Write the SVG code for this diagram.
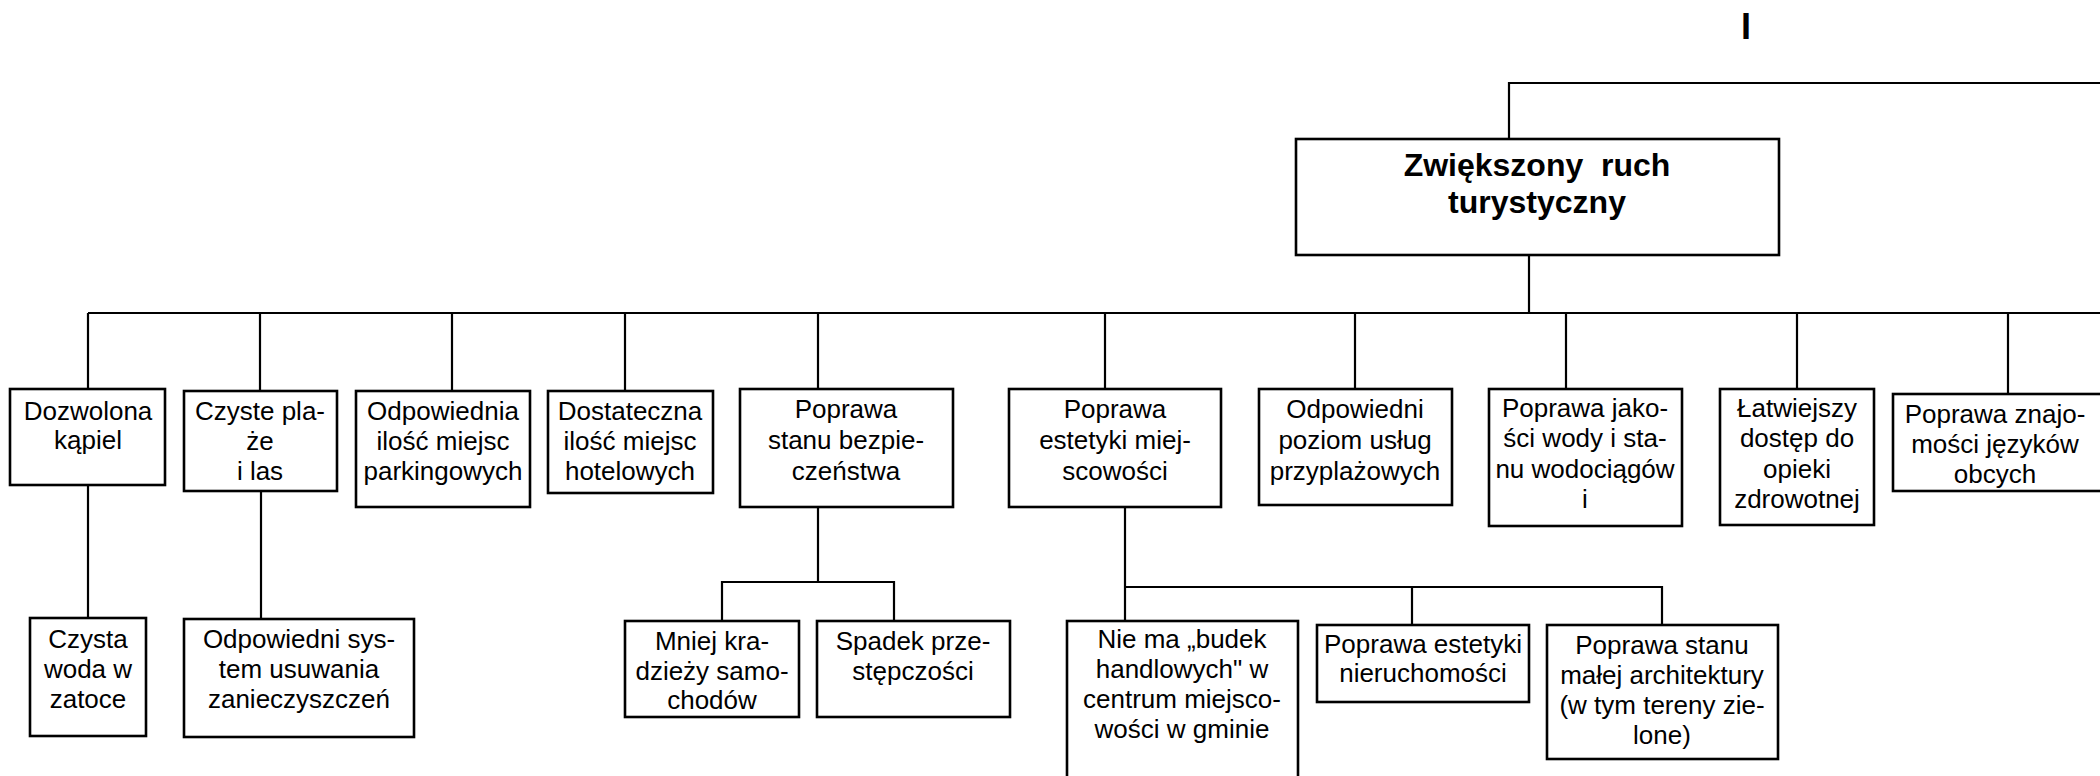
<svg xmlns="http://www.w3.org/2000/svg" width="2100" height="776" viewBox="0 0 2100 776">
<style>
.box{fill:#fff;stroke:#000;stroke-width:2.6}
.ln{fill:none;stroke:#000;stroke-width:2.2}
text{font-family:"Liberation Sans",Arial,sans-serif;font-size:26px;fill:#000;text-anchor:middle}
.b{font-weight:bold;font-size:32px}
.big{font-weight:bold;font-size:36px}
</style>
<rect width="2100" height="776" fill="#fff"/>
<g id="connectors">
<path class="ln" d="M1509,139 V83 H2100"/>
<path class="ln" d="M1529,255 V313"/>
<path class="ln" d="M88,313 H2100"/>
<path class="ln" d="M88,313 V389 M260,313 V391 M452,313 V391 M625,313 V391 M818,313 V389 M1105,313 V389 M1355,313 V389 M1566,313 V389 M1797,313 V389 M2008,313 V393"/>
<path class="ln" d="M88,485 V618"/>
<path class="ln" d="M261,491 V619"/>
<path class="ln" d="M818,507 V582 M722,621 V582 H894 V621"/>
<path class="ln" d="M1125,507 V621 M1125,587 H1662 V625 M1412,587 V625"/>
</g>
<text class="big" x="1746" y="39">I</text>
<g id="root">
<rect class="box" x="1296" y="139" width="483" height="116"/>
<text class="b" x="1537" y="176" xml:space="preserve">Zwiększony  ruch</text>
<text class="b" x="1537" y="213">turystyczny</text>
</g>
<g id="n1">
<rect class="box" x="10" y="389" width="155" height="96"/>
<text x="88" y="420">Dozwolona</text>
<text x="88" y="449">kąpiel</text>
</g>
<g id="n2">
<rect class="box" x="184" y="391" width="153" height="100"/>
<text x="260" y="420">Czyste pla-</text>
<text x="260" y="450">że</text>
<text x="260" y="480">i las</text>
</g>
<g id="n3">
<rect class="box" x="356" y="391" width="174" height="116"/>
<text x="443" y="420">Odpowiednia</text>
<text x="443" y="450">ilość miejsc</text>
<text x="443" y="480">parkingowych</text>
</g>
<g id="n4">
<rect class="box" x="548" y="391" width="165" height="102"/>
<text x="630" y="420">Dostateczna</text>
<text x="630" y="450">ilość miejsc</text>
<text x="630" y="480">hotelowych</text>
</g>
<g id="n5">
<rect class="box" x="740" y="389" width="213" height="118"/>
<text x="846" y="418">Poprawa</text>
<text x="846" y="449">stanu bezpie-</text>
<text x="846" y="480">czeństwa</text>
</g>
<g id="n6">
<rect class="box" x="1009" y="389" width="212" height="118"/>
<text x="1115" y="418">Poprawa</text>
<text x="1115" y="449">estetyki miej-</text>
<text x="1115" y="480">scowości</text>
</g>
<g id="n7">
<rect class="box" x="1259" y="389" width="193" height="116"/>
<text x="1355" y="418">Odpowiedni</text>
<text x="1355" y="449">poziom usług</text>
<text x="1355" y="480">przyplażowych</text>
</g>
<g id="n8">
<rect class="box" x="1489" y="389" width="193" height="137"/>
<text x="1585" y="417">Poprawa jako-</text>
<text x="1585" y="447">ści wody i sta-</text>
<text x="1585" y="478">nu wodociągów</text>
<text x="1585" y="508">i</text>
</g>
<g id="n9">
<rect class="box" x="1720" y="389" width="154" height="136"/>
<text x="1797" y="417">Łatwiejszy</text>
<text x="1797" y="447">dostęp do</text>
<text x="1797" y="478">opieki</text>
<text x="1797" y="508">zdrowotnej</text>
</g>
<g id="n10">
<rect class="box" x="1893" y="394" width="210" height="97"/>
<text x="1995" y="423">Poprawa znajo-</text>
<text x="1995" y="453">mości języków</text>
<text x="1995" y="483">obcych</text>
</g>
<g id="n11">
<rect class="box" x="30" y="618" width="116" height="118"/>
<text x="88" y="648">Czysta</text>
<text x="88" y="678">woda w</text>
<text x="88" y="708">zatoce</text>
</g>
<g id="n12">
<rect class="box" x="184" y="619" width="230" height="118"/>
<text x="299" y="648">Odpowiedni sys-</text>
<text x="299" y="678">tem usuwania</text>
<text x="299" y="708">zanieczyszczeń</text>
</g>
<g id="n13">
<rect class="box" x="625" y="621" width="174" height="96"/>
<text x="712" y="650">Mniej kra-</text>
<text x="712" y="680">dzieży samo-</text>
<text x="712" y="709">chodów</text>
</g>
<g id="n14">
<rect class="box" x="817" y="621" width="193" height="96"/>
<text x="913" y="650">Spadek prze-</text>
<text x="913" y="680">stępczości</text>
</g>
<g id="n15">
<rect class="box" x="1067" y="621" width="231" height="180"/>
<text x="1182" y="648">Nie ma „budek</text>
<text x="1182" y="678">handlowych" w</text>
<text x="1182" y="708">centrum miejsco-</text>
<text x="1182" y="738">wości w gminie</text>
</g>
<g id="n16">
<rect class="box" x="1317" y="625" width="212" height="77"/>
<text x="1423" y="653">Poprawa estetyki</text>
<text x="1423" y="682">nieruchomości</text>
</g>
<g id="n17">
<rect class="box" x="1547" y="625" width="231" height="134"/>
<text x="1662" y="654">Poprawa stanu</text>
<text x="1662" y="684">małej architektury</text>
<text x="1662" y="714">(w tym tereny zie-</text>
<text x="1662" y="744">lone)</text>
</g>
</svg>
